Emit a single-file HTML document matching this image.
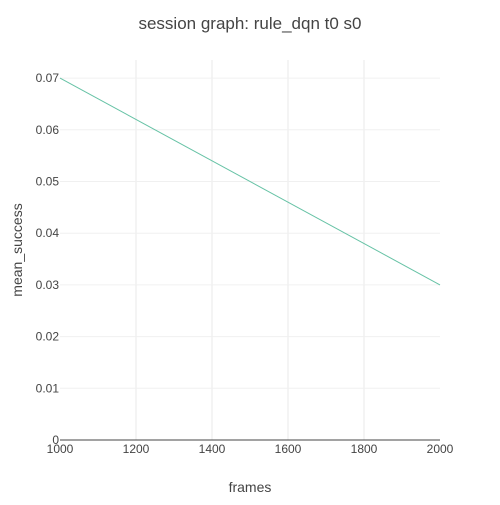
<!DOCTYPE html>
<html><head><meta charset="utf-8"><style>
body{margin:0;background:#fff;font-family:"Liberation Sans",sans-serif;}
svg text{font-family:"Liberation Sans",sans-serif;fill:#444;}
</style></head><body>
<svg id="chart" width="500" height="500">
<text x="250" y="29" text-anchor="middle" font-size="17">session graph: rule_dqn t0 s0</text>
<g id="grid"></g><g id="ticks"></g>
<path id="line" fill="none" stroke="rgb(102,194,165)" stroke-width="1"></path>
<line x1="60" y1="440" x2="440" y2="440" stroke="#444" stroke-width="1"></line>
<text x="250" y="492" text-anchor="middle" font-size="14">frames</text>
<text transform="translate(22,250) rotate(-90)" text-anchor="middle" font-size="14">mean_success</text>
</svg>
<script>
const xVals=[1000,2000];
const yVals=[0.07,0.03];
const xTicks=[1000,1200,1400,1600,1800,2000];
const yTicks=[0,0.01,0.02,0.03,0.04,0.05,0.06,0.07];
const L=60,R=440,T=60,B=440,yMax=0.0735;
const sx=v=>L+(v-1000)/1000*(R-L);
const sy=v=>B-v/yMax*(B-T);
const ns="http://www.w3.org/2000/svg";
const g=document.getElementById('grid'),tk=document.getElementById('ticks');
xTicks.forEach(t=>{
 const x=sx(t);
 if(t!==1000&&t!==2000){const l=document.createElementNS(ns,'line');
 l.setAttribute('x1',x);l.setAttribute('x2',x);l.setAttribute('y1',T);l.setAttribute('y2',B);
 l.setAttribute('stroke','#f4f4f4');l.setAttribute('stroke-width','2');
 
 
 g.appendChild(l);}
 const s=document.createElementNS(ns,'text');
 s.setAttribute('x',x);s.setAttribute('y',453);s.setAttribute('text-anchor','middle');s.setAttribute('font-size','12');
 s.textContent=t;
 
 
 tk.appendChild(s);
});
yTicks.forEach(t=>{
 const y=sy(t);
 if(t!==0){const l=document.createElementNS(ns,'line');
 l.setAttribute('x1',L);l.setAttribute('x2',R);l.setAttribute('y1',y);l.setAttribute('y2',y);
 l.setAttribute('stroke','#f0f0f0');l.setAttribute('stroke-width','1');
 
 
 g.appendChild(l);}
 const s=document.createElementNS(ns,'text');
 s.setAttribute('x',59);s.setAttribute('y',y+4);s.setAttribute('text-anchor','end');s.setAttribute('font-size','12');
 s.textContent=t===0?'0':t.toFixed(2);
 
 
 tk.appendChild(s);
});
document.getElementById('line').setAttribute('d',xVals.map((x,i)=>(i?'L':'M')+sx(x)+','+sy(yVals[i])).join(' '));
</script>
</body></html>
